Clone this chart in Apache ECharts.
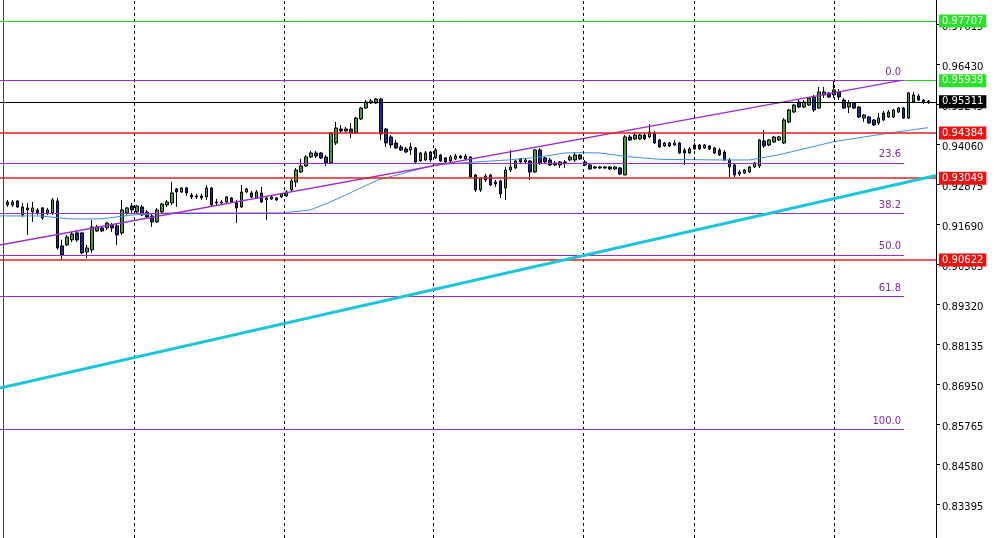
<!DOCTYPE html>
<html><head><meta charset="utf-8">
<script src="https://cdn.jsdelivr.net/npm/echarts@6/dist/echarts.min.js"></script>
<style>html,body{margin:0;padding:0;background:#fff}#c{width:1001px;height:538px}</style>
</head><body><div id="c"></div>
<script>
// ---- data ----
const opens = [
0.92343,0.92255,0.92373,0.91958,0.92166,0.92047,0.92106,0.92166,0.92018,0.92018,
0.92373,0.91040,0.91070,0.91218,0.91425,0.91425,0.90862,0.90921,0.91484,0.91573,
0.91573,0.91662,0.91632,0.91425,0.92018,0.92225,0.92047,0.92195,0.92047,0.91929,
0.91751,0.92047,0.92255,0.92314,0.92729,0.92640,0.92758,0.92551,0.92521,0.92521,
0.92492,0.92758,0.92343,0.92314,0.92343,0.92462,0.92314,0.92195,0.92640,0.92610,
0.92462,0.92610,0.92462,0.92432,0.92462,0.92492,0.92521,0.92699,0.92936,0.93232,
0.93410,0.93677,0.93795,0.93795,0.93677,0.93499,0.94091,0.94506,0.94447,0.94506,
0.94388,0.94802,0.95128,0.95276,0.95276,0.95395,0.94506,0.94269,0.94091,0.93973,
0.93914,0.93884,0.93943,0.93558,0.93588,0.93825,0.93647,0.93736,0.93647,0.93558,
0.93617,0.93706,0.93617,0.93677,0.93143,0.92699,0.93114,0.93143,0.92936,0.92966,
0.92758,0.93291,0.93351,0.93617,0.93528,0.93558,0.93232,0.93884,0.93647,0.93588,
0.93499,0.93440,0.93528,0.93588,0.93588,0.93736,0.93528,0.93440,0.93380,0.93351,
0.93380,0.93380,0.93321,0.93351,0.93143,0.94269,0.94210,0.94210,0.94328,0.94269,
0.94388,0.94180,0.94002,0.94091,0.94032,0.94091,0.93884,0.93795,0.93914,0.94032,
0.93943,0.94002,0.93943,0.93884,0.93825,0.93588,0.93440,0.93173,0.93203,0.93232,
0.93380,0.93410,0.94151,0.94032,0.94121,0.94180,0.94091,0.94713,0.95010,0.95306,
0.95158,0.95217,0.95454,0.95128,0.95514,0.95573,0.95514,0.95603,0.95365,0.95158,
0.95276,0.95158,0.94832,0.94862,0.94773,0.94684,0.94980,0.94862,0.94862,0.95010,
0.95128,0.94832,0.95306,0.95484,0.95365,0.95336];
const closes = [
0.92255,0.92343,0.92195,0.92195,0.92106,0.92166,0.92018,0.91869,0.92106,0.92403,
0.90981,0.90773,0.91307,0.91395,0.91218,0.90833,0.90981,0.91603,0.91603,0.91484,
0.91721,0.91573,0.91366,0.92106,0.92166,0.92106,0.92225,0.91958,0.91899,0.91751,
0.92106,0.92284,0.92343,0.92610,0.92640,0.92758,0.92610,0.92492,0.92492,0.92462,
0.92758,0.92255,0.92314,0.92343,0.92492,0.92343,0.92166,0.92640,0.92729,0.92492,
0.92640,0.92343,0.92403,0.92492,0.92403,0.92580,0.92640,0.92966,0.93291,0.93410,
0.93677,0.93795,0.93706,0.93647,0.93499,0.94388,0.94536,0.94447,0.94506,0.94388,
0.94832,0.95128,0.95306,0.95336,0.95395,0.94358,0.94091,0.94032,0.93943,0.93884,
0.93825,0.93973,0.93528,0.93795,0.93795,0.93588,0.93884,0.93558,0.93528,0.93677,
0.93706,0.93647,0.93706,0.93084,0.92699,0.93054,0.92995,0.92847,0.92877,0.92580,
0.93291,0.93380,0.93558,0.93528,0.93588,0.93232,0.93884,0.93499,0.93528,0.93440,
0.93440,0.93528,0.93499,0.93677,0.93736,0.93617,0.93440,0.93321,0.93351,0.93380,
0.93351,0.93321,0.93380,0.93173,0.94269,0.94180,0.94328,0.94328,0.94210,0.94417,
0.94091,0.93973,0.94091,0.94002,0.94091,0.93795,0.93795,0.93914,0.94032,0.93914,
0.94032,0.93914,0.93795,0.93736,0.93588,0.93380,0.93143,0.93232,0.93291,0.93380,
0.93499,0.94180,0.94002,0.94180,0.94269,0.94269,0.94773,0.95069,0.95217,0.95158,
0.95306,0.95425,0.95069,0.95603,0.95603,0.95454,0.95662,0.95454,0.95128,0.95276,
0.95128,0.94862,0.94921,0.94684,0.94625,0.94832,0.94773,0.95010,0.95069,0.95128,
0.94832,0.95573,0.95514,0.95365,0.95306,0.95311];
const lows = [
0.92195,0.92195,0.92166,0.91899,0.91366,0.91751,0.91958,0.91810,0.91958,0.91958,
0.90921,0.90625,0.91040,0.91158,0.91158,0.90803,0.90684,0.90833,0.91455,0.91455,
0.91514,0.91455,0.91070,0.91366,0.91958,0.92018,0.92018,0.91929,0.91869,0.91603,
0.91721,0.92018,0.92195,0.92255,0.92195,0.92610,0.92521,0.92432,0.92432,0.92403,
0.92403,0.92225,0.92225,0.92255,0.92314,0.92314,0.91721,0.92166,0.92610,0.92462,
0.92432,0.92314,0.91810,0.92403,0.92373,0.92462,0.92492,0.92640,0.92788,0.93203,
0.93380,0.93647,0.93647,0.93617,0.93410,0.93469,0.94032,0.94388,0.94417,0.94239,
0.94358,0.94773,0.95099,0.95247,0.95247,0.94180,0.93973,0.93943,0.93914,0.93854,
0.93795,0.93736,0.93499,0.93528,0.93558,0.93528,0.93617,0.93528,0.93499,0.93528,
0.93588,0.93617,0.93588,0.93054,0.92640,0.92640,0.92936,0.92817,0.92788,0.92462,
0.92403,0.93232,0.93321,0.93499,0.93499,0.92995,0.93203,0.93440,0.93499,0.93410,
0.93410,0.93351,0.93351,0.93558,0.93528,0.93588,0.93410,0.93291,0.93321,0.93321,
0.93321,0.93291,0.93291,0.93143,0.93143,0.94151,0.94180,0.94180,0.94180,0.94239,
0.94062,0.93943,0.93973,0.93973,0.94002,0.93765,0.93440,0.93765,0.93884,0.93884,
0.93914,0.93884,0.93765,0.93706,0.93558,0.93084,0.93084,0.93114,0.93173,0.93203,
0.93351,0.93351,0.93943,0.94002,0.94091,0.94151,0.94062,0.94684,0.94980,0.95128,
0.95128,0.95187,0.95010,0.95099,0.95425,0.95425,0.95425,0.95365,0.95099,0.94980,
0.95099,0.94832,0.94713,0.94654,0.94595,0.94625,0.94743,0.94832,0.94832,0.94980,
0.94802,0.94802,0.95276,0.95336,0.95247,0.95247];
const highs = [
0.92403,0.92403,0.92403,0.92314,0.92314,0.92343,0.92166,0.92195,0.92166,0.92462,
0.92462,0.91218,0.91366,0.91455,0.91514,0.91455,0.91070,0.91810,0.91662,0.91603,
0.91751,0.91721,0.91721,0.92403,0.92195,0.92314,0.92255,0.92255,0.92106,0.92018,
0.92166,0.92314,0.92403,0.92936,0.92758,0.92788,0.92788,0.92610,0.92580,0.92580,
0.92847,0.92788,0.92432,0.92403,0.92521,0.92492,0.92403,0.92847,0.92758,0.92669,
0.92699,0.92788,0.92492,0.92521,0.92492,0.92610,0.92699,0.93025,0.93351,0.93617,
0.93736,0.93854,0.93854,0.93825,0.93736,0.94417,0.94713,0.94625,0.94565,0.94684,
0.94862,0.95158,0.95365,0.95395,0.95425,0.95425,0.94536,0.94328,0.94180,0.94032,
0.93973,0.94091,0.93973,0.93825,0.93854,0.93854,0.93943,0.93765,0.93677,0.93736,
0.93765,0.93736,0.93765,0.93706,0.93173,0.93084,0.93173,0.93173,0.92995,0.92995,
0.93380,0.93884,0.93588,0.93647,0.93647,0.93588,0.93914,0.93943,0.93677,0.93647,
0.93558,0.93558,0.93588,0.93736,0.93825,0.93765,0.93588,0.93469,0.93410,0.93410,
0.93410,0.93410,0.93410,0.93380,0.94328,0.94328,0.94417,0.94358,0.94388,0.94654,
0.94447,0.94210,0.94121,0.94121,0.94180,0.94121,0.93943,0.93973,0.94091,0.94062,
0.94062,0.94032,0.93973,0.93943,0.93884,0.93647,0.93499,0.93291,0.93321,0.93410,
0.93528,0.94210,0.94476,0.94210,0.94299,0.94299,0.94832,0.95099,0.95247,0.95365,
0.95365,0.95454,0.95514,0.95751,0.95751,0.95603,0.95939,0.95691,0.95425,0.95365,
0.95306,0.95187,0.94950,0.94891,0.94802,0.94980,0.95039,0.95069,0.95099,0.95158,
0.95158,0.95603,0.95603,0.95543,0.95395,0.95365];

// moving average, read as [bar index, price]
const maPoints = [[-1.5,0.91929],[6.5,0.91929],[12.6,0.91840],[18.6,0.91840],[25.2,0.91958],
[32.6,0.92018],[55.3,0.92018],[60.8,0.92106],[64.4,0.92314],[68.8,0.92610],[74.4,0.92995],
[85.9,0.93440],[93.9,0.93528],[100.5,0.93588],[107.0,0.93677],[112.0,0.93795],[115.0,0.93805],
[119.0,0.93795],[124.4,0.93686],[131.1,0.93607],[143.1,0.93588],[149.1,0.93588],[154.8,0.93736],
[166.0,0.94130],[176.8,0.94379],[184.9,0.94545]];

const priceTicks = [0.97615,0.96430,0.95245,0.94060,0.92875,0.91690,0.90505,0.89320,0.88135,0.86950,0.85765,0.84580,0.83395];
const greenLevels = [0.97707, 0.95939];
const bidLevel = 0.95311;
const redLevels = [0.94384, 0.93049, 0.90622];
const fibLabels = ['0.0','23.6','38.2','50.0','61.8','100.0'];
const fibPrices = [0.95939,0.93502,0.91995,0.90777,0.89558,0.85614];
const fibEndBar = 180.1;
const separatorBars = [25.4,55.5,85.5,115.6,137.9,166.0];
const cyanTrend = [[-1.5,0.86829],[186.5,0.93125]];
const purpleTrend = [[-1.5,0.91068],[179.3,0.95939]];
const yMin = 0.82383, yMax = 0.98329;

// ---- chart ----
const N = opens.length;
const slots = N + 2;
const xLeft = -1.5, xRight = N + 0.5;
const categories = Array.from({length: slots}, (_, k) => String(k - 1));
const candleData = categories.map((_, k) => {
  const i = k - 1;
  return (i >= 0 && i < N) ? [opens[i], closes[i], lows[i], highs[i]] : ['-','-','-','-'];
});
const FONT = 'DejaVu Sans';
const PURPLE = '#9b30c8';

function priceLine(v, lineColor, bg, fg, w) {
  return [
    {coord: [xLeft, v], lineStyle: {color: lineColor, width: w, type: 'solid'},
     label: {show: true, position: 'end', distance: 3, formatter: v.toFixed(5),
       backgroundColor: bg, color: fg, padding: [2,3,1,3], fontSize: 10, fontFamily: FONT}},
    {coord: [xRight, v]}
  ];
}
const levelLines = [];
greenLevels.forEach(v => levelLines.push(priceLine(v, '#1ed21e', '#2ee02e', '#f0fff0', 1.2)));
levelLines.push(priceLine(bidLevel, '#000000', '#000000', '#ffffff', 1));
redLevels.forEach(v => levelLines.push(priceLine(v, '#e02020', '#f01010', '#ffffff', 1.5)));
fibPrices.forEach((p, k) => {
  levelLines.push([
    {coord: [xLeft, p], lineStyle: {color: PURPLE, width: 1.2, type: 'solid'},
     label: {show: true, position: 'insideEndTop', formatter: fibLabels[k], color: '#7a2a9e',
       fontSize: 10, fontFamily: FONT, distance: [3, 3]}},
    {coord: [fibEndBar, p]}
  ]);
});

const chart = echarts.init(document.getElementById('c'), null, {renderer: 'canvas'});
chart.setOption({
  animation: false,
  backgroundColor: '#ffffff',
  grid: {left: 0, top: 0, width: 936, height: 538, containLabel: false},
  xAxis: [
    {type: 'category', data: categories, boundaryGap: true, show: false},
    {type: 'value', min: xLeft, max: xRight, show: false}
  ],
  yAxis: [
    {type: 'value', position: 'right', min: yMin, max: yMax, z: 0,
     axisLine: {show: true, onZero: false, lineStyle: {color: '#000', width: 1}},
     axisTick: {show: true, length: 4, customValues: priceTicks, lineStyle: {color: '#000'}},
     axisLabel: {show: true, customValues: priceTicks, formatter: v => '{t|' + v.toFixed(5) + '}',
       margin: 6,
       rich: {t: {color: '#000', fontSize: 10, fontFamily: FONT, padding: [7, 0, 0, 0]}}},
     splitLine: {show: false}},
    {type: 'value', position: 'left', min: yMin, max: yMax, offset: -3,
     axisLine: {show: true, onZero: false, lineStyle: {color: '#444', width: 1}},
     axisTick: {show: false}, axisLabel: {show: false}, splitLine: {show: false}}
  ],
  series: [
    {type: 'candlestick', xAxisIndex: 0, yAxisIndex: 0, data: candleData, barWidth: 3, z: 2,
     itemStyle: {color: '#3f9c3f', color0: '#1c2a9c', borderColor: '#000', borderColor0: '#000', borderWidth: 1}},
    {type: 'line', name: 'MA', xAxisIndex: 1, yAxisIndex: 0, data: maPoints, showSymbol: false, z: 3,
     lineStyle: {color: '#3f8fd6', width: 1}, silent: true,
     markLine: {silent: true, symbol: ['none','none'], label: {show: false},
       lineStyle: {color: '#000', type: [3,3], width: 1},
       data: separatorBars.map(b => ({xAxis: b}))}},
    {type: 'line', name: 'trend', xAxisIndex: 1, yAxisIndex: 0, data: purpleTrend, showSymbol: false, z: 4,
     clip: false, silent: true, lineStyle: {color: PURPLE, width: 1.5},
     markLine: {silent: true, symbol: ['none','none'], data: levelLines}},
    {type: 'line', name: 'channel', xAxisIndex: 1, yAxisIndex: 0, data: cyanTrend, showSymbol: false, z: 5,
     silent: true, lineStyle: {color: '#1ec5d8', width: 3}}
  ]
});
</script>
</body></html>
